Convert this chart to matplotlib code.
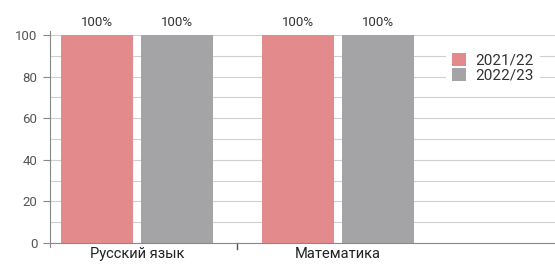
import numpy as np
import matplotlib.pyplot as plt

# Datos
categorias = ['Русский язык', 'Математика']
anios = ['2021/22', '2022/23']
valores_2122 = [100, 100]
valores_2223 = [100, 100]
etiquetas = ['100%', '100%']
colores = ['#e38a8d', '#a4a3a5']

plt.rcParams['font.family'] = ['Roboto', 'DejaVu Sans']

fig = plt.figure(figsize=(5.55, 2.66), dpi=100)
ax = fig.add_axes([0.0901, 0.0865, 0.9099, 0.782])

x = np.arange(len(categorias))
ancho = 0.358
desplazamiento = 0.2

barras1 = ax.bar(x - desplazamiento, valores_2122, ancho, color=colores[0], label=anios[0], zorder=2)
barras2 = ax.bar(x + desplazamiento, valores_2223, ancho, color=colores[1], label=anios[1], zorder=2)

for barras in (barras1, barras2):
    for b, et in zip(barras, etiquetas):
        ax.text(b.get_x() + b.get_width() / 2, b.get_height() + 3, et,
                ha='center', va='bottom', fontsize=9.5, color='#333333')

ax.set_xlim(-0.433, 2.08)
ax.set_ylim(0, 100)
ax.set_yticks(range(0, 101, 20))
ax.set_yticks(range(0, 101, 10), minor=True)
ax.grid(axis='y', which='both', color='#d0d0d0', linewidth=0.8, zorder=0)
ax.tick_params(axis='y', which='major', length=5, color='#888888', labelcolor='#555555', labelsize=9.5, pad=4)
ax.tick_params(axis='y', which='minor', length=0)

ax.set_xticks(x)
ax.set_xticklabels(categorias, fontsize=10.5, color='#222222')
ax.tick_params(axis='x', length=0, pad=3)
# separador entre categorías
ax.plot([0.5, 0.5], [-3, 0], color='#555555', linewidth=1, clip_on=False)

for lado in ['top', 'right']:
    ax.spines[lado].set_visible(False)
ax.spines['left'].set_color('#888888')
ax.spines['left'].set_bounds(-2, 102)
ax.spines['bottom'].set_color('#888888')

leg = ax.legend(loc='upper right', bbox_to_anchor=(0.985, 0.98), frameon=True, fontsize=11,
                handlelength=0.9, handleheight=0.9, handletextpad=0.6, labelspacing=0.05,
                borderpad=0.4, fancybox=False)
leg.get_frame().set_edgecolor('none')
leg.get_frame().set_facecolor('white')
leg.get_frame().set_alpha(1)
for t in leg.get_texts():
    t.set_color('#333333')

fig.savefig('out.png', dpi=100)
